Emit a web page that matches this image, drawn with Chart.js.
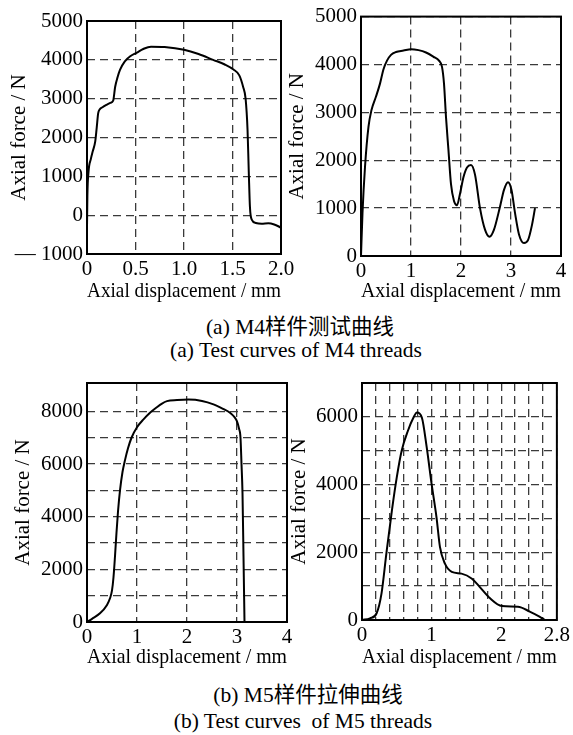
<!DOCTYPE html>
<html><head><meta charset="utf-8">
<script src="https://cdn.jsdelivr.net/npm/chart.js@4.4.1/dist/chart.umd.min.js"></script>
<style>
html,body{margin:0;padding:0;background:#fff;width:573px;height:735px;overflow:hidden;}
canvas{position:absolute;}
.cap{position:absolute;width:400px;text-align:center;font-family:"Liberation Serif","Noto Sans CJK SC",serif;font-size:21.5px;line-height:24px;color:#000;white-space:pre;}
</style></head><body>
<canvas id="c1" width="300" height="305" style="left:0px;top:0px"></canvas>
<canvas id="c2" width="288" height="305" style="left:285px;top:0px"></canvas>
<canvas id="c3" width="300" height="306" style="left:0px;top:365px"></canvas>
<canvas id="c4" width="288" height="306" style="left:285px;top:365px"></canvas>
<div class="cap" style="left:100px;top:315px">(a) M4样件测试曲线</div>
<div class="cap" style="left:96px;top:338px">(a) Test curves of M4 threads</div>
<div class="cap" style="left:108px;top:683px">(b) M5样件拉伸曲线</div>
<div class="cap" style="left:103px;top:709px">(b) Test curves  of M5 threads</div>
<script>
// ---- data ----
const m4TestDisp = [0, 0.004, 0.015, 0.04, 0.06, 0.085, 0.1, 0.115, 0.13, 0.16, 0.2, 0.24, 0.27, 0.29, 0.315, 0.34, 0.39, 0.45, 0.51, 0.58, 0.66, 0.8, 1.0, 1.15, 1.3, 1.42, 1.51, 1.57, 1.61, 1.635, 1.655, 1.668, 1.68, 1.7, 1.74, 1.8, 1.87, 1.93, 2.0];
const m4TestForce = [-320, 500, 1100, 1450, 1650, 1900, 2250, 2620, 2720, 2780, 2840, 2890, 2950, 3300, 3550, 3740, 3960, 4100, 4180, 4280, 4340, 4330, 4260, 4150, 4000, 3880, 3750, 3600, 3300, 3000, 2200, 1100, 200, -120, -200, -220, -210, -240, -320];

const m4TensDisp = [0, 0.03, 0.08, 0.15, 0.21, 0.3, 0.38, 0.45, 0.52, 0.6, 0.7, 0.85, 1.0, 1.15, 1.3, 1.45, 1.56, 1.62, 1.66, 1.7, 1.75, 1.8, 1.86, 1.92, 1.98, 2.05, 2.12, 2.2, 2.28, 2.38, 2.48, 2.57, 2.66, 2.78, 2.86, 2.94, 3.01, 3.08, 3.16, 3.26, 3.34, 3.42, 3.48];
const m4TensForce = [0, 900, 1860, 2700, 3050, 3330, 3600, 3900, 4080, 4200, 4260, 4290, 4320, 4300, 4250, 4160, 4080, 3950, 3600, 2900, 2200, 1500, 1150, 1060, 1300, 1650, 1850, 1900, 1700, 1000, 550, 400, 550, 1030, 1380, 1540, 1380, 900, 450, 270, 330, 650, 1000];

const m5TestDisp = [0, 0.1, 0.26, 0.4, 0.46, 0.5, 0.53, 0.56, 0.59, 0.62, 0.66, 0.71, 0.76, 0.82, 0.89, 1.0, 1.13, 1.26, 1.39, 1.5, 1.6, 1.8, 2.03, 2.3, 2.53, 2.72, 2.86, 2.95, 3.0, 3.04, 3.07, 3.09, 3.11, 3.13, 3.15];
const m5TestForce = [0, 120, 330, 650, 900, 1200, 1700, 2500, 3400, 4200, 5000, 5700, 6150, 6600, 7000, 7400, 7700, 7950, 8150, 8300, 8390, 8430, 8450, 8400, 8270, 8100, 7950, 7780, 7620, 7350, 7000, 6000, 4900, 2500, 0];

const m5TensDisp = [0, 0.115, 0.21, 0.28, 0.35, 0.43, 0.5, 0.57, 0.66, 0.74, 0.79, 0.86, 0.93, 1.0, 1.07, 1.12, 1.19, 1.29, 1.43, 1.58, 1.69, 1.84, 2.01, 2.24, 2.41, 2.55, 2.63];
const m5TensForce = [0, 50, 200, 780, 1960, 3240, 4220, 5000, 5590, 5980, 6130, 5980, 5100, 4020, 3040, 2160, 1670, 1420, 1370, 1220, 980, 640, 410, 390, 250, 100, 0];

// tick values
const ticksX1 = [0, 0.5, 1.0, 1.5, 2.0];
const ticksY1 = [-1000, 0, 1000, 2000, 3000, 4000, 5000];
const ticksX2 = [0, 1, 2, 3, 4];
const ticksY2 = [0, 1000, 2000, 3000, 4000, 5000];
const ticksX3 = [0, 1, 2, 3, 4];
const ticksY3 = [0, 1000, 2000, 3000, 4000, 5000, 6000, 7000, 8000];
const labelsY3 = [0, 2000, 4000, 6000, 8000];
const ticksX4 = [0, 0.2, 0.4, 0.6, 0.8, 1.0, 1.2, 1.4, 1.6, 1.8, 2.0, 2.2, 2.4, 2.6, 2.8];
const labelsX4 = [0, 1, 2, 2.8];
const ticksY4 = [0, 1000, 2000, 3000, 4000, 5000, 6000, 7000];
const labelsY4 = [0, 2000, 4000, 6000];

const xTitle = 'Axial displacement / mm';
const yTitle = 'Axial force / N';

const FONT = {family: 'Liberation Serif', size: 21};

const framePlugin = {
  id: 'frame',
  afterDraw(chart) {
    const a = chart.chartArea, ctx = chart.ctx;
    ctx.save();
    ctx.strokeStyle = '#000';
    ctx.lineWidth = 2;
    ctx.strokeRect(a.left, a.top, a.right - a.left, a.bottom - a.top);
    ctx.restore();
  }
};

function near(list, v) { return list.some(t => Math.abs(t - v) < 1e-6); }

function makeChart(id, box, xs, ys, xr, yr, xTicks, yTicks, xFmt, yFmt, yTitlePad) {
  const pts = xs.map((x, i) => ({x: x, y: ys[i]}));
  new Chart(document.getElementById(id), {
    type: 'line',
    data: {datasets: [{data: pts, borderColor: '#000', borderWidth: 2, pointRadius: 0, fill: false, cubicInterpolationMode: 'monotone'}]},
    options: {
      responsive: false, animation: false, devicePixelRatio: 1,
      layout: {padding: {left: 0, top: box.t - box.ct, right: box.cl + box.cw - box.r, bottom: 0}},
      plugins: {legend: {display: false}, tooltip: {enabled: false}},
      scales: {
        x: {
          type: 'linear', min: xr[0], max: xr[1],
          afterBuildTicks: s => { s.ticks = xTicks.map(v => ({value: v})); },
          afterFit: s => { s.height = box.ct + box.ch - box.b; },
          ticks: {autoSkip: false, maxRotation: 0, padding: 3, color: '#000', font: FONT, callback: xFmt},
          grid: {color: '#3a3a3a', lineWidth: 1.3, drawTicks: false},
          border: {display: false, dash: [8, 5]},
          title: {display: true, text: xTitle, color: '#000', font: FONT, padding: {top: 0, bottom: 1}}
        },
        y: {
          type: 'linear', min: yr[0], max: yr[1],
          afterBuildTicks: s => { s.ticks = yTicks.map(v => ({value: v})); },
          afterFit: s => { s.width = box.l - box.cl; },
          ticks: {autoSkip: false, padding: 4, color: '#000', font: FONT, callback: yFmt},
          grid: {color: '#3a3a3a', lineWidth: 1.3, drawTicks: false},
          border: {display: false, dash: [8, 5]},
          title: {display: true, text: yTitle, color: '#000', font: FONT, padding: {top: yTitlePad, bottom: 0}}
        }
      }
    },
    plugins: [framePlugin]
  });
}

makeChart('c1', {cl: 0, ct: 0, cw: 300, ch: 305, l: 87, t: 21, r: 281, b: 254},
  m4TestDisp, m4TestForce, [0, 2], [-1000, 5000], ticksX1, ticksY1,
  v => v === 0 ? '0' : Number(v).toFixed(1),
  v => v < 0 ? '\u2014 ' + Math.abs(v) : String(v), 7);

makeChart('c2', {cl: 285, ct: 0, cw: 288, ch: 305, l: 361, t: 16, r: 561, b: 256},
  m4TensDisp, m4TensForce, [0, 4], [0, 5000], ticksX2, ticksY2,
  v => String(v), v => String(v), 0);

makeChart('c3', {cl: 0, ct: 365, cw: 300, ch: 306, l: 87, t: 383, r: 287, b: 622},
  m5TestDisp, m5TestForce, [0, 4], [0, 9080], ticksX3, ticksY3,
  v => String(v), v => near(labelsY3, v) ? String(v) : '', 11);

makeChart('c4', {cl: 285, ct: 365, cw: 288, ch: 306, l: 362, t: 383, r: 557, b: 620},
  m5TensDisp, m5TensForce, [0, 2.8], [0, 7000], ticksX4, ticksY4,
  v => near(labelsX4, v) ? String(Math.round(v * 10) / 10) : '', v => near(labelsY4, v) ? String(v) : '', 2);
</script>
</body></html>
